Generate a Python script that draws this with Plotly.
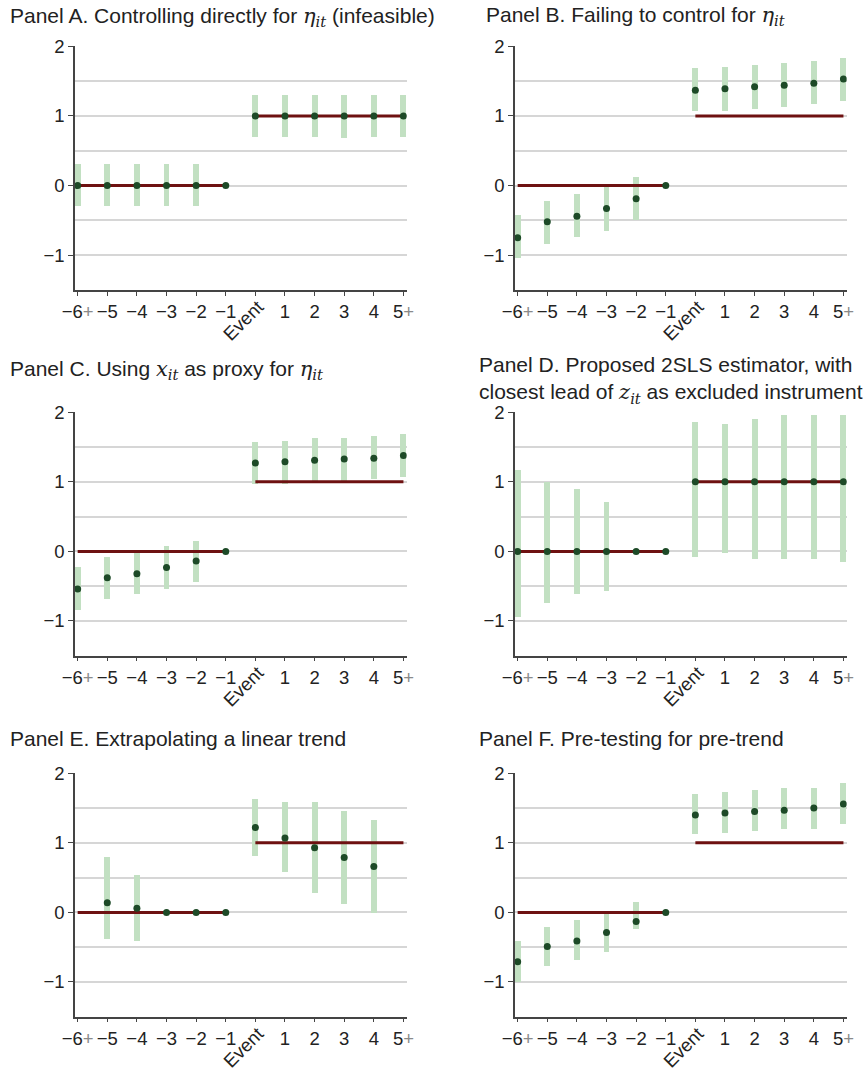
import plotly.graph_objects as go

# ---------------- data ----------------
periods = ["−6+", "−5", "−4", "−3", "−2", "−1", "Event", "1", "2", "3", "4", "5+"]
true_effect = [0, 0, 0, 0, 0, 0, 1, 1, 1, 1, 1, 1]

# Panel A
a_est = [0, 0, 0, 0, 0, 0, 1, 1, 1, 1, 1, 1]
a_lo = [-0.30, -0.30, -0.30, -0.30, -0.30, None, 0.70, 0.70, 0.70, 0.68, 0.70, 0.70]
a_hi = [0.30, 0.30, 0.30, 0.30, 0.30, None, 1.30, 1.30, 1.30, 1.29, 1.30, 1.30]

# Panel B
b_est = [-0.75, -0.52, -0.44, -0.33, -0.19, 0, 1.37, 1.39, 1.42, 1.44, 1.47, 1.53]
b_lo = [-1.05, -0.84, -0.75, -0.65, -0.50, None, 1.06, 1.07, 1.10, 1.13, 1.16, 1.21]
b_hi = [-0.43, -0.22, -0.12, -0.01, 0.12, None, 1.69, 1.70, 1.73, 1.76, 1.79, 1.83]

# Panel C
c_est = [-0.54, -0.38, -0.32, -0.23, -0.14, 0, 1.27, 1.29, 1.31, 1.33, 1.34, 1.38]
c_lo = [-0.85, -0.69, -0.62, -0.55, -0.45, None, 0.96, 0.97, 0.99, 1.00, 1.04, 1.07]
c_hi = [-0.23, -0.08, 0.00, 0.07, 0.15, None, 1.57, 1.59, 1.62, 1.63, 1.66, 1.69]

# Panel D
d_est = [0, 0, 0, 0, 0, 0, 1, 1, 1, 1, 1, 1]
d_lo = [-0.95, -0.74, -0.62, -0.58, None, None, -0.08, -0.03, -0.12, -0.12, -0.11, -0.16]
d_hi = [1.17, 0.99, 0.90, 0.70, None, None, 1.86, 1.83, 1.90, 1.95, 1.96, 1.95]

# Panel E
e_est = [None, 0.14, 0.06, 0, 0, 0, 1.22, 1.07, 0.93, 0.79, 0.66, None]
e_lo = [None, -0.39, -0.41, None, None, None, 0.81, 0.58, 0.28, 0.11, -0.02, None]
e_hi = [None, 0.79, 0.53, None, None, None, 1.63, 1.59, 1.59, 1.46, 1.33, None]

# Panel F
f_est = [-0.71, -0.49, -0.41, -0.29, -0.13, 0, 1.40, 1.43, 1.45, 1.47, 1.50, 1.56]
f_lo = [-1.01, -0.78, -0.69, -0.58, -0.25, None, 1.12, 1.14, 1.16, 1.19, 1.20, 1.26]
f_hi = [-0.42, -0.21, -0.11, 0.00, 0.14, None, 1.70, 1.73, 1.75, 1.78, 1.79, 1.85]

SERIF = "font-family:\"DejaVu Serif\", \"Liberation Serif\", serif"
ETA = "<span style='" + SERIF + "'><i>η</i><sub><i>it</i></sub></span>"
XIT = "<span style='" + SERIF + "'><i>x</i><sub><i>it</i></sub></span>"
ZIT = "<span style='" + SERIF + "'><i>z</i><sub><i>it</i></sub></span>"

titles = [
    "Panel A. Controlling directly for " + ETA + " (infeasible)",
    "Panel B. Failing to control for " + ETA,
    "Panel C. Using " + XIT + " as proxy for " + ETA,
    "Panel D. Proposed 2SLS estimator, with<br>closest lead of " + ZIT + " as excluded instrument",
    "Panel E. Extrapolating a linear trend",
    "Panel F. Pre-testing for pre-trend",
]
panel_data = [(a_est, a_lo, a_hi), (b_est, b_lo, b_hi), (c_est, c_lo, c_hi),
              (d_est, d_lo, d_hi), (e_est, e_lo, e_hi), (f_est, f_lo, f_hi)]

# ---------------- layout geometry ----------------
W, H = 867, 1071
col_x = [(75, 406.7), (515, 846.7)]
row_y = [(46.3, 290.0), (412.3, 655.7), (773.3, 1016.7)]
title_pos = [(8, 17), (484, 16), (8, 370), (477, 380), (8, 738), (477, 738)]

FONT = "Liberation Sans, Arial, sans-serif"
TXT = "#222222"
CI_COL = "#c2e0c2"
DOT_COL = "#1d4a27"
RED = "#6e1111"
GRID = "#d6d6d6"
AX = "#444444"
TICK_SIZE = 18.5
TITLE_SIZE = 21


def tick_label(s):
    if s.endswith("+"):
        return s[:-1] + "<span style='color:#8a8a8a'>+</span>"
    return s


xs = list(range(len(periods)))
label_vals = [x for x, p in zip(xs, periods) if p != "Event"]
label_text = [tick_label(p) for p in periods if p != "Event"]
event_pos = periods.index("Event")

fig = go.Figure()
layout = dict(
    width=W, height=H, margin=dict(l=0, r=0, t=0, b=0, autoexpand=False),
    paper_bgcolor="white", plot_bgcolor="white", showlegend=False,
    font=dict(family=FONT, color=TXT, size=16),
    bargap=0,
)
annotations = []

for i, ((est, lo, hi), title) in enumerate(zip(panel_data, titles)):
    r, c = divmod(i, 2)
    n = i + 1
    xa = "x" if n == 1 else f"x{n}"
    ya = "y" if n == 1 else f"y{n}"
    x0, x1 = col_x[c]
    ytop, ybot = row_y[r]

    # CI bars
    bx = [x for x, l, h in zip(xs, lo, hi) if l is not None]
    bb = [l for l in lo if l is not None]
    bh = [h - l for l, h in zip(lo, hi) if l is not None]
    fig.add_trace(go.Bar(x=bx, y=bh, base=bb, width=0.2,
                         marker=dict(color=CI_COL, line=dict(width=0)),
                         xaxis=xa, yaxis=ya, hoverinfo="skip"))
    # true effect line
    lx = xs[:6] + [None] + xs[6:]
    ly = true_effect[:6] + [None] + true_effect[6:]
    fig.add_trace(go.Scatter(x=lx, y=ly, mode="lines", line=dict(color=RED, width=3),
                             xaxis=xa, yaxis=ya, hoverinfo="skip", connectgaps=False))
    # estimates
    fig.add_trace(go.Scatter(x=xs, y=est, mode="markers",
                             marker=dict(color=DOT_COL, size=7),
                             xaxis=xa, yaxis=ya))

    xkey = "xaxis" if n == 1 else f"xaxis{n}"
    ykey = "yaxis" if n == 1 else f"yaxis{n}"
    layout[xkey] = dict(
        domain=[x0 / W, x1 / W], anchor=ya, range=[-0.09, 11.11], automargin=False,
        tickmode="array", tickvals=label_vals, ticktext=label_text,
        ticks="outside", ticklen=4, tickwidth=1, tickcolor=AX,
        minor=dict(tickmode="array", tickvals=[event_pos], ticks="outside",
                   ticklen=4, tickwidth=1, tickcolor=AX, showgrid=False),
        showline=True, linecolor=AX, linewidth=1.5, showgrid=False, zeroline=False,
        tickfont=dict(size=TICK_SIZE, family=FONT, color=TXT), tickangle=0, fixedrange=True,
    )
    layout[ykey] = dict(
        domain=[1 - ybot / H, 1 - ytop / H], anchor=xa, range=[-1.5, 2], automargin=False,
        tickmode="linear", tick0=0, dtick=1,
        ticks="outside", ticklen=5, tickwidth=1, tickcolor=AX,
        showline=True, linecolor=AX, linewidth=1.5,
        showgrid=True, gridcolor=GRID, gridwidth=1.5, zeroline=False,
        minor=dict(tick0=0, dtick=0.5, showgrid=True, gridcolor=GRID, gridwidth=1.5, ticks=""),
        tickfont=dict(size=TICK_SIZE, family=FONT, color=TXT), fixedrange=True,
    )
    # rotated "Event" tick label
    annotations.append(dict(
        x=event_pos, xref=xa, y=1 - ybot / H, yref="paper", text="Event", showarrow=False,
        textangle=-45, xanchor="center", yanchor="middle", xshift=-12, yshift=-31,
        font=dict(size=TICK_SIZE, family=FONT, color=TXT),
    ))
    tx, ty = title_pos[i]
    annotations.append(dict(
        x=tx / W, y=1 - ty / H, xref="paper", yref="paper", xanchor="left", yanchor="middle",
        align="left", text=title, showarrow=False,
        font=dict(size=TITLE_SIZE, family=FONT, color=TXT),
    ))

layout["annotations"] = annotations
fig.update_layout(**layout)
fig.write_html(
    "out.html",
    config={"displayModeBar": False, "responsive": False},
    post_script="document.body.style.margin='0';document.body.style.padding='0';"
                "document.body.style.overflow='hidden';",
)
